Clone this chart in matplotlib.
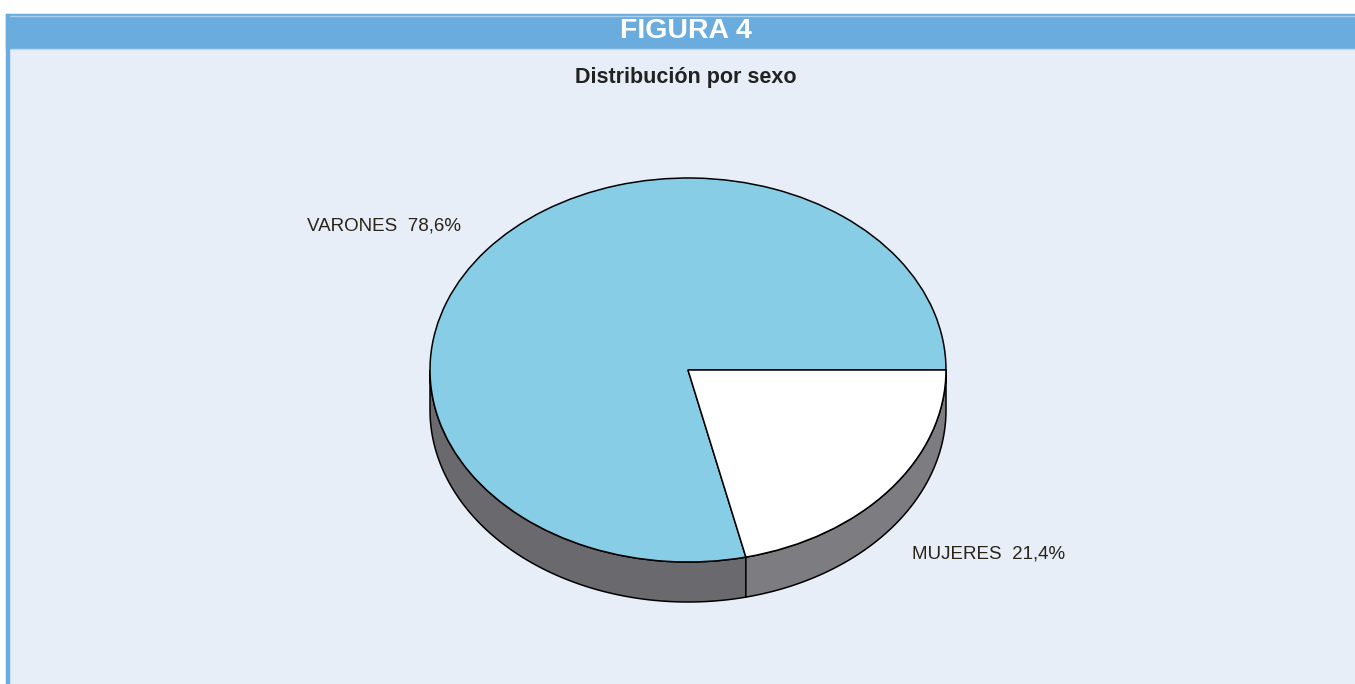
import numpy as np
import matplotlib.pyplot as plt
from matplotlib.patches import Wedge, Polygon, Rectangle
from matplotlib.transforms import Affine2D

# data
labels = ['VARONES', 'MUJERES']
shares = [78.6, 21.4]
share_text = ['78,6%', '21,4%']
top_colors = ['#88cde6', '#ffffff']
side_colors = ['#6a6a6e', '#7c7c81']

plt.rcParams['font.family'] = ['Liberation Sans', 'DejaVu Sans']

W, H = 1355, 684
fig = plt.figure(figsize=(W / 100, H / 100), dpi=100)
ax = fig.add_axes([0, 0, 1, 1])
ax.set_xlim(0, W)
ax.set_ylim(0, H)
ax.axis('off')

# panel, header bar and left border
ax.add_patch(Rectangle((6, 0), W - 6, H - 14, color='#e7eef8', zorder=0))
ax.add_patch(Rectangle((6, H - 48), W - 6, 34, color='#6aacde', zorder=1))
ax.plot([6, W], [H - 16, H - 16], color='#a9d0ef', lw=1, zorder=2)
ax.plot([6, W], [H - 48.5, H - 48.5], color='#bcd9f1', lw=1, zorder=2)
ax.add_patch(Rectangle((6, 0), 2.5, H - 14, color='#6aacde', zorder=2))

ax.text(686, H - 31, 'FIGURA 4', color='white', fontsize=20.5,
        fontweight='bold', ha='center', va='center', zorder=3)
ax.text(686, H - 77, 'Distribución por sexo', color='#222222', fontsize=15.5,
        fontweight='bold', ha='center', va='center')

# 3d-looking pie
cx, cy, rx, ry, depth = 688, H - 370, 258, 192, 40
bounds = np.concatenate([[0], np.cumsum(shares) / np.sum(shares) * 360])
ell = Affine2D().scale(rx, ry).translate(cx, cy) + ax.transData

for i in range(len(shares)):
    t0, t1 = bounds[i], bounds[i + 1]
    a0, a1 = max(t0, 180), min(t1, 360)
    if a0 < a1:
        t = np.radians(np.linspace(a0, a1, 200))
        xs = cx + rx * np.cos(t)
        ys = cy + ry * np.sin(t)
        pts = np.column_stack([np.concatenate([xs, xs[::-1]]),
                               np.concatenate([ys, ys[::-1] - depth])])
        ax.add_patch(Polygon(pts, closed=True, facecolor=side_colors[i],
                             edgecolor='black', lw=1.1, zorder=4))

for i in range(len(shares)):
    ax.add_patch(Wedge((0, 0), 1, bounds[i], bounds[i + 1],
                       facecolor=top_colors[i], edgecolor='black', lw=1.1,
                       transform=ell, zorder=5))

ax.text(307, H - 226, f'{labels[0]}  {share_text[0]}', color='#2a2418',
        fontsize=13.5, ha='left', va='center')
ax.text(912, H - 554, f'{labels[1]}  {share_text[1]}', color='#2a2418',
        fontsize=13.5, ha='left', va='center')

fig.savefig('out.png', dpi=100, facecolor='white')
